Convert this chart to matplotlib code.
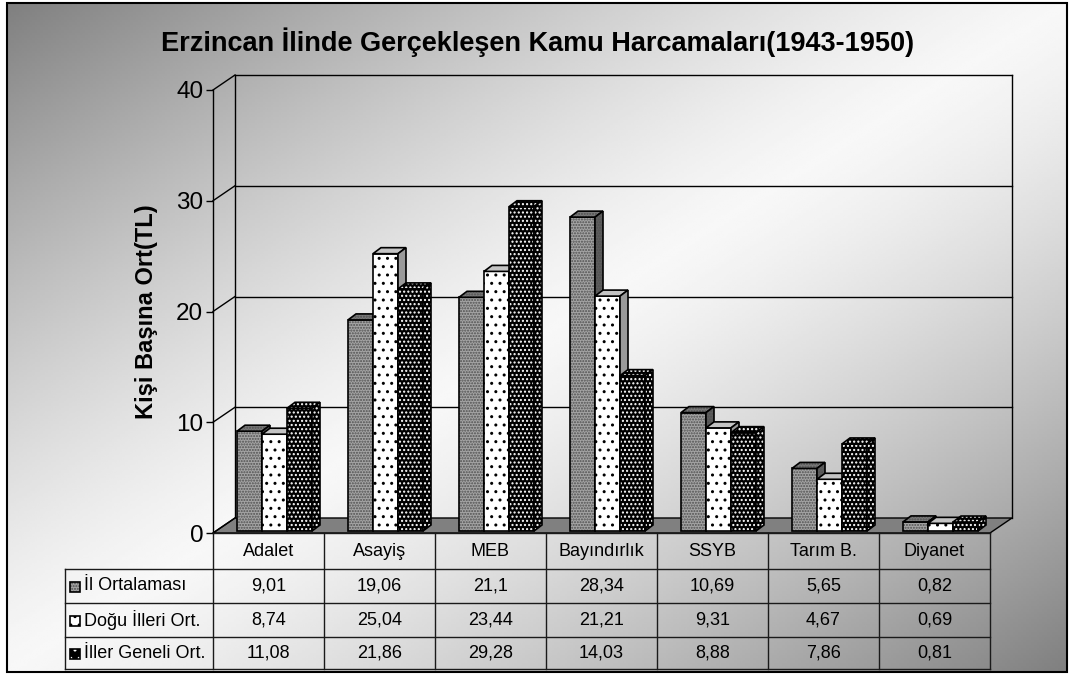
import numpy as np
import matplotlib
matplotlib.use('Agg')
import matplotlib.pyplot as plt
from matplotlib.patches import Rectangle, Polygon

plt.rcParams['font.family'] = ['Liberation Sans', 'DejaVu Sans']

# veriler
categories = ['Adalet', 'Asayiş', 'MEB', 'Bayındırlık', 'SSYB', 'Tarım B.', 'Diyanet']
series_names = ['İl Ortalaması', 'Doğu İlleri Ort.', 'İller Geneli Ort.']
il_ort = [9.01, 19.06, 21.1, 28.34, 10.69, 5.65, 0.82]
dogu_ort = [8.74, 25.04, 23.44, 21.21, 9.31, 4.67, 0.69]
iller_ort = [11.08, 21.86, 29.28, 14.03, 8.88, 7.86, 0.81]
yticks = [0, 10, 20, 30, 40]
title = 'Erzincan İlinde Gerçekleşen Kamu Harcamaları(1943-1950)'
ylabel = 'Kişi Başına Ort(TL)'

series = [il_ort, dogu_ort, iller_ort]
# (on yuz, tarama, tarama rengi, ust yuz, yan yuz)
styles = [
    ('#a4a4a4', '......', '#505050', '#7a7a7a', '#5e5e5e'),
    ('#ffffff', '..', '#000000', '#c4c4c4', '#9a9a9a'),
    ('#000000', '....', '#ffffff', '#000000', '#000000'),
]

W, H = 1071, 675
fig = plt.figure(figsize=(W / 100, H / 100), dpi=100)

# arka plan gradyani + cerceve
bg = fig.add_axes([0, 0, 1, 1])
bg.set_xlim(0, W)
bg.set_ylim(H, 0)
bg.axis('off')
u = np.linspace(0, 1, 400)
v = np.linspace(0, 1, 260)
U, V = np.meshgrid(u, v)
t = np.abs(U + V - 1)
grad = 0.97 - 0.47 * t ** 1.3
bg.imshow(grad, cmap='gray', vmin=0, vmax=1, extent=(7, 1067, 672, 3), aspect='auto', zorder=0)
bg.add_patch(Rectangle((7, 3), 1060, 669, fill=False, ec='black', lw=1.5, zorder=2))

fig.text(538 / W, 1 - 42 / H, title, ha='center', va='center', fontsize=19.5, fontweight='bold')
fig.text(146 / W, 1 - 312 / H, ylabel, ha='center', va='center', rotation=90, fontsize=17, fontweight='bold')

# ana eksen: on duzlem
x0, x1, y0, y1 = 213, 990, 533, 90
ax = fig.add_axes([x0 / W, 1 - y0 / H, (x1 - x0) / W, (y0 - y1) / H])
ax.patch.set_alpha(0)
ax.set_xlim(-0.5, len(categories) - 0.5)
ax.set_ylim(0, 40)
ux = (x1 - x0) / len(categories)   # piksel / kategori
uy = (y0 - y1) / 40.0              # piksel / birim
dxw, dyw = 22 / ux, 15 / uy        # duvar derinligi
for s in ['top', 'right', 'bottom']:
    ax.spines[s].set_visible(False)
ax.spines['left'].set_linewidth(1)
ax.set_xticks([])
ax.set_yticks(yticks)
ax.tick_params(axis='y', length=5, width=1, labelsize=17.5, pad=2)

xl, xr = -0.5, len(categories) - 0.5
lk = dict(color='black', lw=1, clip_on=False)
# zemin
ax.add_patch(Polygon([(xl, 0), (xr, 0), (xr + dxw, dyw), (xl + dxw, dyw)], closed=True,
                     fc='#808080', ec='black', lw=1, zorder=2, clip_on=False))
# arka duvar cizgileri
for yt in yticks[1:]:
    ax.plot([xl, xl + dxw], [yt, yt + dyw], zorder=1, **lk)
    ax.plot([xl + dxw, xr + dxw], [yt + dyw, yt + dyw], zorder=1, **lk)
ax.plot([xl, xl + dxw], [0, dyw], zorder=3, **lk)
ax.plot([xl + dxw, xl + dxw], [dyw, 40 + dyw], zorder=1, **lk)
ax.plot([xr + dxw, xr + dxw], [dyw, 40 + dyw], zorder=1, **lk)


def face(xy, fc, hatch, hc, z):
    ax.add_patch(Polygon(xy, closed=True, fc=fc, ec='none', zorder=z, clip_on=False))
    if hatch:
        ax.add_patch(Polygon(xy, closed=True, fill=False, hatch=hatch, ec=hc, lw=0,
                             zorder=z, clip_on=False))
    ax.add_patch(Polygon(xy, closed=True, fill=False, ec='black', lw=1.2, zorder=z, clip_on=False))


bw = 25 / ux
shift = 6 / ux
base = 2 / uy
bdx, bdy = 8 / ux, 6 / uy
z = 5
for i in range(len(categories)):
    for k, vals in enumerate(series):
        fc, hatch, hc, tc, sc = styles[k]
        left = i + shift - 1.5 * bw + k * bw
        right = left + bw
        top = base + vals[i]
        face([(left, base), (right, base), (right, top), (left, top)], fc, hatch, hc, z)
        face([(left, top), (right, top), (right + bdx, top + bdy), (left + bdx, top + bdy)],
             tc, hatch if k != 1 else None, hc, z)
        face([(right, base), (right + bdx, base + bdy), (right + bdx, top + bdy), (right, top)],
             sc, hatch if k != 1 else None, hc, z)
        z += 1

# veri tablosu
tl = 65
ax_t = fig.add_axes([tl / W, 1 - 669 / H, (x1 - tl) / W, (669 - 533) / H])
ax_t.patch.set_alpha(0)
ax_t.axis('off')
xlab = xl - (x0 - tl) / ux
ax_t.set_xlim(xlab, xr)
ax_t.set_ylim(136, 0)
rows = [0, 36, 70, 104, 136]
tk = dict(color='#1a1a1a', lw=1, clip_on=False)
ax_t.plot([xl, xr], [rows[0], rows[0]], **tk)
for r in rows[1:]:
    ax_t.plot([xlab, xr], [r, r], **tk)
ax_t.plot([xlab, xlab], [rows[1], rows[-1]], **tk)
for c in np.arange(len(categories) + 1) - 0.5:
    ax_t.plot([c, c], [rows[0], rows[-1]], **tk)
for i, name in enumerate(categories):
    ax_t.text(i, (rows[0] + rows[1]) / 2, name, ha='center', va='center', fontsize=13)
for k, vals in enumerate(series):
    yc = (rows[k + 1] + rows[k + 2]) / 2
    fc, hatch, hc, tc, sc = styles[k]
    kx = xlab + 5 / ux
    ax_t.add_patch(Rectangle((kx, yc - 4.5), 10 / ux, 10, fc=fc, ec='none', clip_on=False))
    ax_t.add_patch(Rectangle((kx, yc - 4.5), 10 / ux, 10, fill=False, hatch=hatch[:2] if k == 2 else hatch,
                             ec=hc, lw=0, clip_on=False))
    ax_t.add_patch(Rectangle((kx, yc - 4.5), 10 / ux, 10, fill=False, ec='black', lw=1.2, clip_on=False))
    ax_t.text(xlab + 19 / ux, yc, series_names[k], ha='left', va='center', fontsize=13)
    for i, val in enumerate(vals):
        ax_t.text(i, yc, str(val).replace('.', ','), ha='center', va='center', fontsize=13)

fig.savefig('out.png', dpi=100)
